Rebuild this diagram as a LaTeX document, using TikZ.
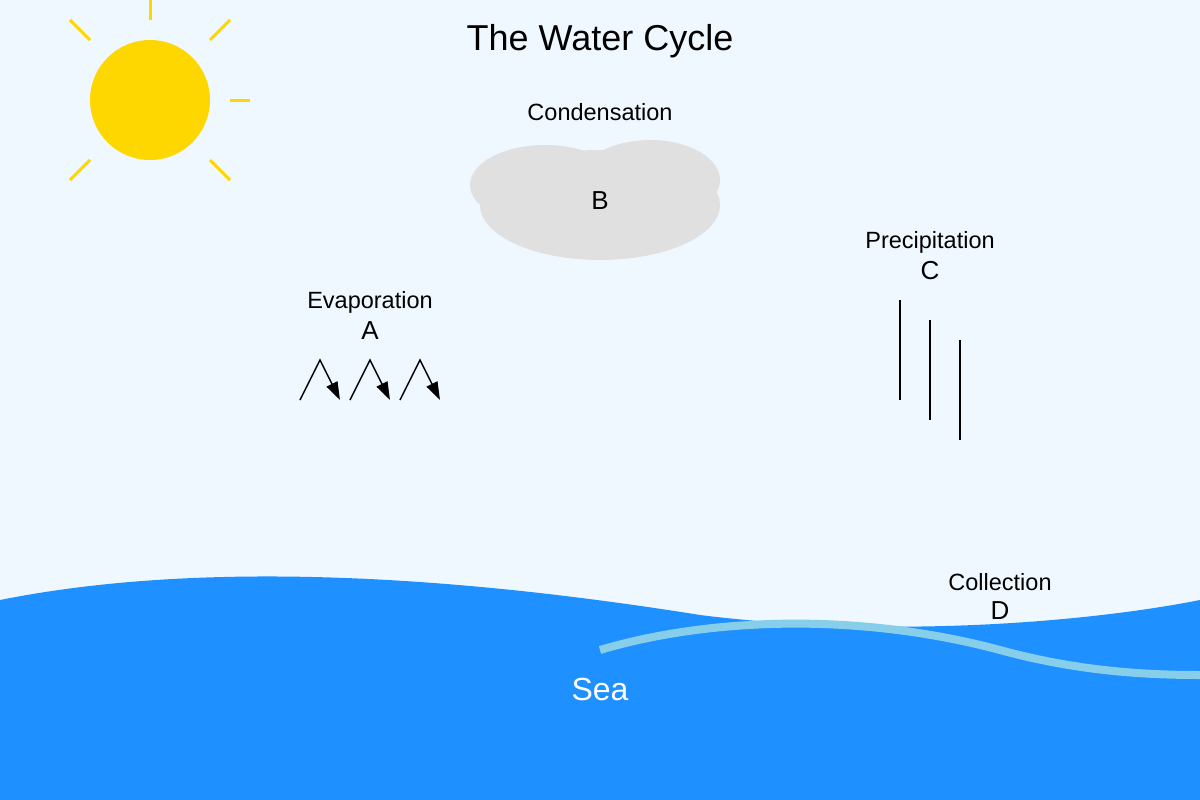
\documentclass[tikz,border=0pt]{standalone}
\usepackage{fontspec}
\setmainfont{Liberation Sans}
\usetikzlibrary{arrows.meta}
\definecolor{bg}{HTML}{F0F8FF}
\definecolor{sun}{HTML}{FFD700}
\definecolor{cloud}{HTML}{E0E0E0}
\definecolor{sea}{HTML}{1E90FF}
\definecolor{stream}{HTML}{87CEEB}
\begin{document}
\begin{tikzpicture}[x=1pt,y=-1pt,
  ray/.style={sun,line width=3pt},
  lbl/.style={font=\fontsize{23.5}{28}\selectfont,inner sep=0},
  letter/.style={font=\fontsize{26}{30}\selectfont,inner sep=0},
  evap/.style={line width=1.5pt,-{Triangle[length=18pt,width=12pt]}},
  rain/.style={line width=1.5pt}]
\fill[bg] (0,0) rectangle (1200,800);
\useasboundingbox (0,0) rectangle (1200,800);
% sun
\fill[sun] (150,100) circle (60);
\draw[ray] (150,0) -- (150,20);
\draw[ray] (70,20) -- (90,40);
\draw[ray] (230,20) -- (210,40);
\draw[ray] (230,100) -- (250,100);
\draw[ray] (70,180) -- (90,160);
\draw[ray] (230,180) -- (210,160);
\node[font=\fontsize{36}{42}\selectfont,inner sep=0] (title) at (600,41) {The Water Cycle};
% cloud
\fill[cloud] (545,185) ellipse [x radius=75,y radius=40];
\fill[cloud] (650,180) ellipse [x radius=70,y radius=40];
\fill[cloud] (600,205) ellipse [x radius=120,y radius=55];
\node[lbl] (cond) at (600,112) {Condensation};
\node[letter] (B) at (600,201) {B};
% evaporation
\node[lbl] (evl) at (370,302) {Evaporation};
\node[letter] (A) at (370,331) {A};
\foreach \dx in {0,50,100}{
  \draw[evap] (300+\dx,400) -- (320+\dx,360) -- (340+\dx,400);
}
% precipitation
\node[lbl] (prl) at (930,242) {Precipitation};
\node[letter] (C) at (930,271) {C};
\draw[rain] (900,300) -- (900,400);
\draw[rain] (930,320) -- (930,420);
\draw[rain] (960,340) -- (960,440);
% sea
\fill[sea] (0,600) .. controls (200,560) and (450,575) .. (700,615)
  .. controls (900,640) and (1100,620) .. (1200,600) -- (1200,800) -- (0,800) -- cycle;
\draw[stream,line width=8pt] (600,650) .. controls (700,620) and (850,610) .. (1000,650)
  .. controls (1080,672) and (1150,675) .. (1200,675);
\node[lbl] (coll) at (1000,582) {Collection};
\node[letter] (D) at (1000,611) {D};
\node[font=\fontsize{32}{38}\selectfont,text=white,inner sep=0] (seal) at (600,689) {Sea};
\end{tikzpicture}
\end{document}
